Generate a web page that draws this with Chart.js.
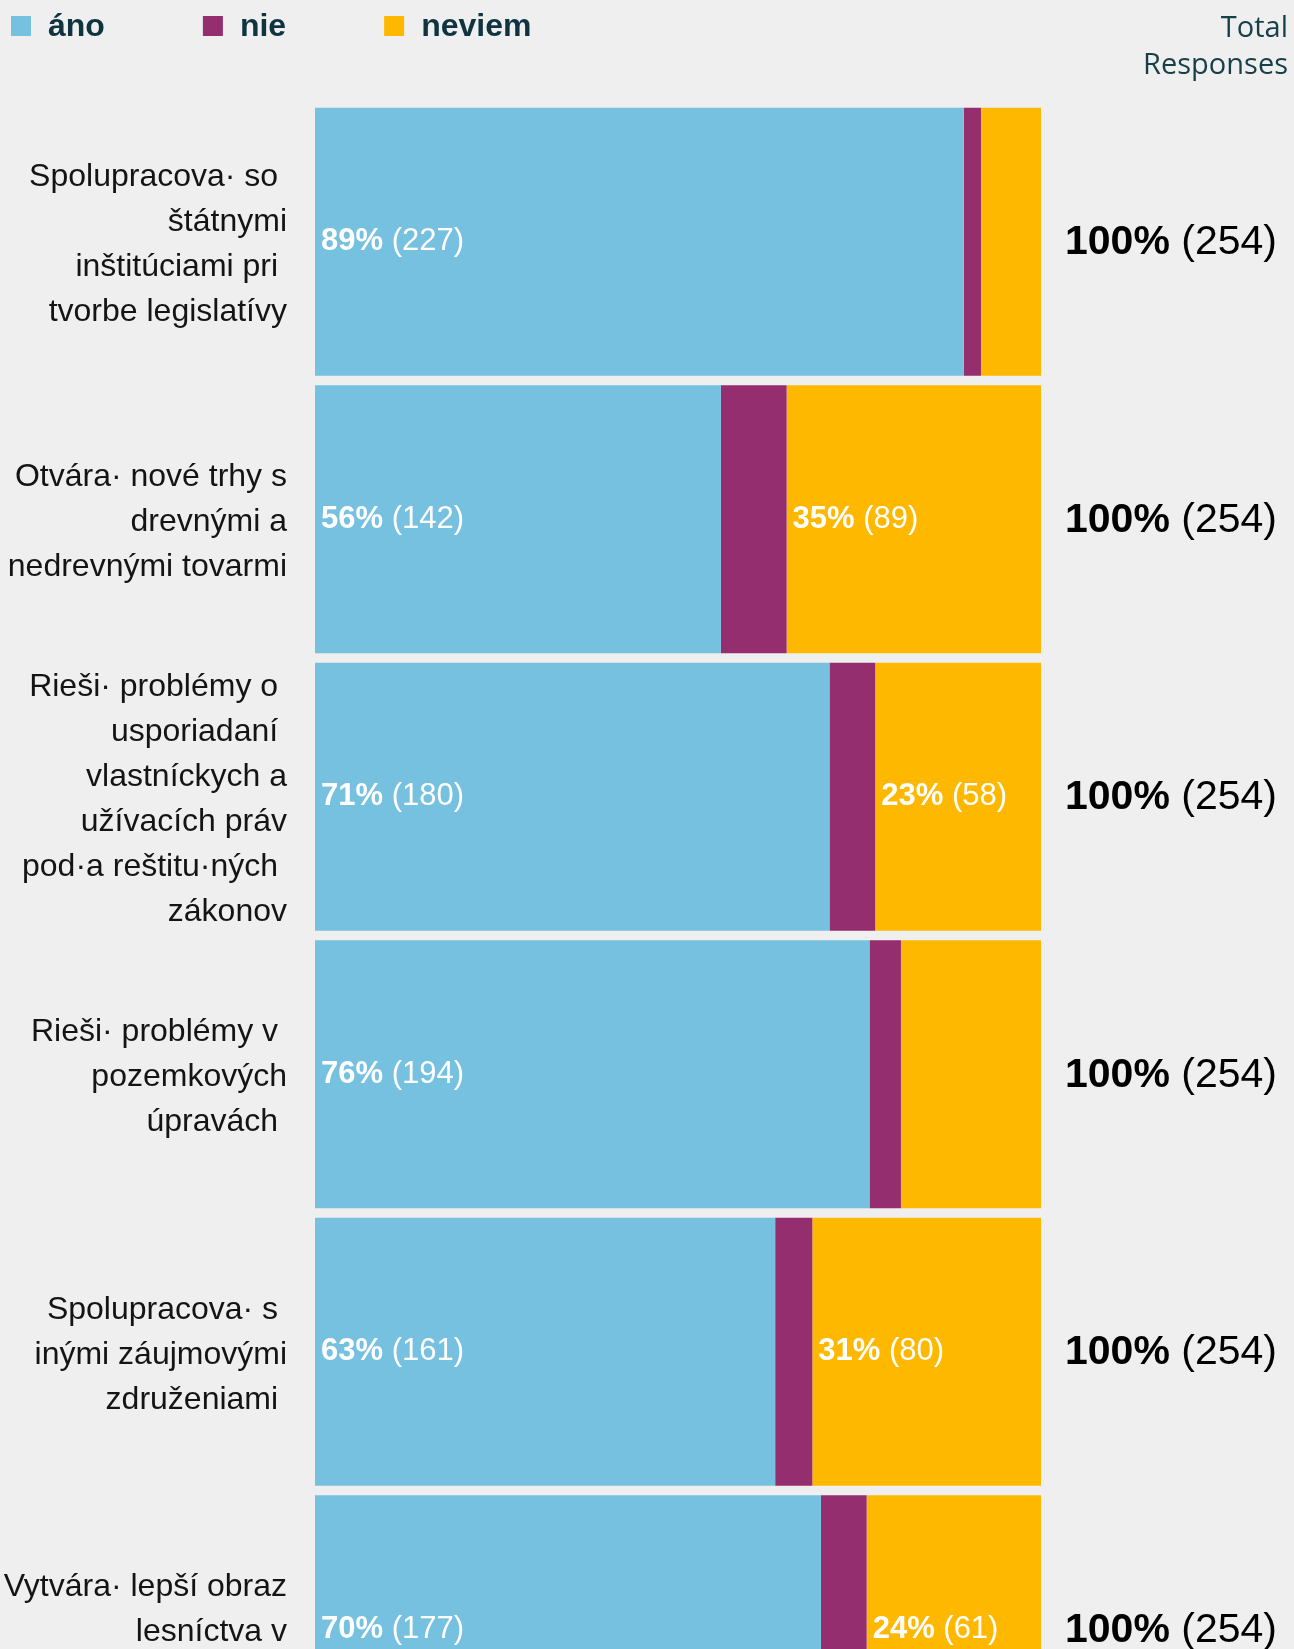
<!DOCTYPE html>
<html>
<head>
<meta charset="utf-8">
<script src="https://cdn.jsdelivr.net/npm/chart.js@4.4.0/dist/chart.umd.min.js"></script>
<style>
html,body{margin:0;padding:0;background:#efefef;overflow:hidden}
#outer{width:1294px;height:1649px;overflow:hidden}
#wrap{position:relative;width:1294px;height:1768px}
canvas{display:block}
</style>
</head>
<body>
<div id="outer"><div id="wrap"><canvas id="c"></canvas></div></div>
<script>
// categories (multi-line, as wrapped in the original)
const CATS=[
  ['Spolupracova· so ','štátnymi','inštitúciami pri ','tvorbe legislatívy'],
  ['Otvára· nové trhy s','drevnými a','nedrevnými tovarmi'],
  ['Rieši· problémy o ','usporiadaní ','vlastníckych a','užívacích práv','pod·a reštitu·ných ','zákonov'],
  ['Rieši· problémy v ','pozemkových','úpravách '],
  ['Spolupracova· s ','inými záujmovými','združeniami '],
  ['Vytvára· lepší obraz','lesníctva v','spoločnosti']
];
const SERIES=['áno','nie','neviem'];
const ANO=[227,142,180,194,161,177];
const NIE=[6,23,16,11,13,16];
const NEVIEM=[21,89,58,49,80,61];
const COLS=['#76c0e0','#952e6e','#feb800'];
const TOTALS=ANO.map((v,i)=>v+NIE[i]+NEVIEM[i]);

const FONT='"Liberation Sans",Arial,sans-serif';

// legend + header + value labels
const extras={
  id:'extras',
  afterDatasetsDraw(chart){
    const {ctx,chartArea}=chart;
    ctx.save();
    ctx.textBaseline='middle';
    ctx.textAlign='left';
    chart.data.datasets.forEach((ds,di)=>{
      const meta=chart.getDatasetMeta(di);
      meta.data.forEach((el,i)=>{
        const v=ds.data[i],pct=Math.round(v/TOTALS[i]*100);
        if(pct<20)return;
        let x=Math.min(el.x,el.base)+6;
        const y=el.y;
        ctx.fillStyle='#fff';
        ctx.font='bold 31px '+FONT;
        const a=pct+'%';
        ctx.fillText(a,x,y);
        x+=ctx.measureText(a).width;
        ctx.font='31px '+FONT;
        x+=ctx.measureText(' ').width;
        ctx.fillText('('+v+')',x,y);
      });
    });
    // row totals
    const meta0=chart.getDatasetMeta(0);
    meta0.data.forEach((el,i)=>{
      let x=chartArea.right+24;
      const y=el.y+1;
      ctx.fillStyle='#000';
      ctx.font='bold 41px '+FONT;
      ctx.fillText('100%',x,y);
      x+=ctx.measureText('100%').width;
      ctx.font='41px '+FONT;
      x+=ctx.measureText(' ').width;
      ctx.fillText('('+TOTALS[i]+')',x,y);
    });
    ctx.restore();
  },
  afterDraw(chart){
    const {ctx}=chart;
    ctx.save();
    // legend
    let x=11;
    ctx.textBaseline='middle';
    ctx.textAlign='left';
    ctx.font='bold 32px '+FONT;
    SERIES.forEach((s,i)=>{
      ctx.fillStyle=COLS[i];
      ctx.fillRect(x,16,20,20);
      x+=37;
      ctx.fillStyle='#0f3440';
      ctx.fillText(s,x,27);
      x+=ctx.measureText(s).width+98;
    });
    // header
    ctx.textAlign='right';
    ctx.textBaseline='alphabetic';
    ctx.fillStyle='#173f47';
    ctx.font='29px "Open Sans",sans-serif';
    ctx.fillText('Total',1288,37);
    ctx.fillText('Responses',1288,74);
    ctx.restore();
  }
};

new Chart(document.getElementById('c'),{
  type:'bar',
  data:{
    labels:CATS,
    datasets:[
      {label:SERIES[0],data:ANO,backgroundColor:COLS[0]},
      {label:SERIES[1],data:NIE,backgroundColor:COLS[1]},
      {label:SERIES[2],data:NEVIEM,backgroundColor:COLS[2]}
    ]
  },
  options:{
    indexAxis:'y',
    responsive:true,
    maintainAspectRatio:false,
    animation:false,
    datasets:{bar:{categoryPercentage:1,barPercentage:0.966,borderWidth:0}},
    // canvas is taller than the page: the last row runs past the bottom edge, as in the original crop
    layout:{padding:{top:103,right:253,bottom:0,left:0}},
    plugins:{legend:{display:false},tooltip:{enabled:false}},
    scales:{
      x:{stacked:true,display:false,min:0,max:Math.max(...TOTALS)},
      y:{stacked:true,
        grid:{display:false,drawTicks:false},
        border:{display:false},
        afterFit:s=>{s.width=315;s.paddingTop=0;s.paddingBottom=0},
        ticks:{autoSkip:false,padding:28,labelOffset:3,color:'#141414',
          font:{family:FONT,size:32,lineHeight:45/32}}
      }
    }
  },
  plugins:[extras]
});
</script>
</body>
</html>
